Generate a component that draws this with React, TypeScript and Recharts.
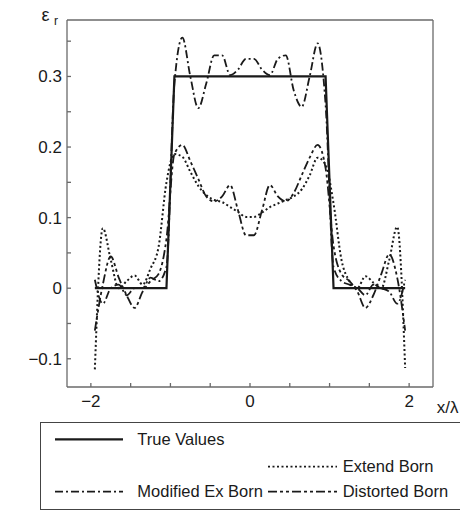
import { Line, LineChart, XAxis, YAxis } from 'recharts';

const xs = [
    -1.95, -1.85, -1.75, -1.65, -1.55, -1.45, -1.35, -1.25, -1.15, -1.05,
    -0.95, -0.85, -0.75, -0.65, -0.55, -0.45, -0.35, -0.25, -0.15, -0.05,
    0.05, 0.15, 0.25, 0.35, 0.45, 0.55, 0.65, 0.75, 0.85, 0.95,
    1.05, 1.15, 1.25, 1.35, 1.45, 1.55, 1.65, 1.75, 1.85, 1.95,
];

const trueValues = [
    0, 0, 0, 0, 0, 0, 0, 0, 0, 0,
    0.3, 0.3, 0.3, 0.3, 0.3, 0.3, 0.3, 0.3, 0.3, 0.3,
    0.3, 0.3, 0.3, 0.3, 0.3, 0.3, 0.3, 0.3, 0.3, 0.3,
    0, 0, 0, 0, 0, 0, 0, 0, 0, 0,
];

const extendBorn = [
    -0.115, 0.085, 0.04, 0.0, 0.01, 0.018, 0.005, 0.028, 0.058, 0.15,
    0.19, 0.186, 0.165, 0.145, 0.132, 0.125, 0.122, 0.115, 0.108, 0.101,
    0.101, 0.107, 0.115, 0.12, 0.125, 0.13, 0.14, 0.16, 0.185, 0.175,
    0.12, 0.04, 0.01, 0.0, 0.017, 0.008, 0.0, 0.04, 0.087, -0.113,
];

const modifiedExBorn = [
    0.012, -0.022, 0.0, 0.005, -0.01, 0.0, 0.0, 0.015, 0.01, 0.03,
    0.29, 0.355, 0.3, 0.255, 0.29, 0.33, 0.33, 0.302, 0.31, 0.325,
    0.325, 0.31, 0.302, 0.325, 0.33, 0.28, 0.257, 0.3, 0.347, 0.26,
    0.03, 0.01, 0.005, 0.0, -0.01, 0.005, 0.0, -0.005, -0.022, 0.012,
];

const distortedBorn = [
    -0.06, 0.005, 0.045, 0.015, -0.01, -0.028, -0.005, 0.01, 0.02, 0.07,
    0.19, 0.203, 0.18, 0.155, 0.13, 0.123, 0.13, 0.146, 0.11, 0.075,
    0.075, 0.11, 0.146, 0.13, 0.123, 0.135, 0.16, 0.185, 0.203, 0.17,
    0.06, 0.02, 0.01, -0.005, -0.028, -0.01, 0.02, 0.048, 0.015, -0.06,
];

const xTicks = [-2, -1.5, -1, -0.5, 0, 0.5, 1, 1.5, 2];
const xLabels = [-2, 0, 2];
const yTicks = [-0.1, -0.05, 0, 0.05, 0.1, 0.15, 0.2, 0.25, 0.3, 0.35];
const yLabels = [-0.1, 0, 0.1, 0.2, 0.3];

const data = xs.map((x, i) => ({
    x,
    trueValues: trueValues[i],
    extendBorn: extendBorn[i],
    modifiedExBorn: modifiedExBorn[i],
    distortedBorn: distortedBorn[i],
}));

const font = '"Liberation Sans", Arial, sans-serif';
const ink = '#1a1a1a';
const axisColor = '#6a6a6a';

const fmt = (labels: number[]) => (v: number) =>
    labels.some((l) => Math.abs(l - v) < 1e-9) ? String(v).replace('-', '\u2212') : '';

const DASH_DOTTED = '2 2.5';
const DASH_DOT = '8 3 2 3';
const DASH_DOTDOT = '9 3 3 3 3 3';

export default function App() {
    return (
        <div style={{ position: 'relative', width: 452, height: 504, fontFamily: font }}>
            <LineChart
                width={452}
                height={420}
                data={data}
                margin={{ top: 7, right: 17, left: 29, bottom: 21 }}
            >
                <XAxis
                    dataKey="x"
                    type="number"
                    domain={[-2.3, 2.3]}
                    ticks={xTicks}
                    tickFormatter={fmt(xLabels)}
                    allowDataOverflow
                    height={20}
                    tickSize={-4}
                    tickMargin={12}
                    stroke={axisColor}
                    strokeWidth={1.3}
                    tick={{ fontSize: 17, fill: ink, fontFamily: font }}
                />
                <XAxis
                    xAxisId="top"
                    orientation="top"
                    type="number"
                    domain={[-2.3, 2.3]}
                    ticks={xTicks}
                    allowDataOverflow
                    height={5}
                    tickSize={-4}
                    tick={false}
                    stroke={axisColor}
                    strokeWidth={1.3}
                />
                <YAxis
                    type="number"
                    domain={[-0.14, 0.38]}
                    ticks={yTicks}
                    tickFormatter={fmt(yLabels)}
                    allowDataOverflow
                    width={30}
                    tickSize={-4}
                    tickMargin={9}
                    stroke={axisColor}
                    strokeWidth={1.3}
                    tick={{ fontSize: 17, fill: ink, fontFamily: font }}
                />
                <YAxis
                    yAxisId="right"
                    orientation="right"
                    type="number"
                    domain={[-0.14, 0.38]}
                    ticks={yTicks}
                    allowDataOverflow
                    width={10}
                    tickSize={-4}
                    tick={false}
                    stroke={axisColor}
                    strokeWidth={1.3}
                />
                <Line type="linear" dataKey="trueValues" stroke={ink} strokeWidth={2.2} dot={false} isAnimationActive={false} />
                <Line type="monotone" dataKey="extendBorn" stroke={ink} strokeWidth={2} strokeDasharray={DASH_DOTTED} dot={false} isAnimationActive={false} />
                <Line type="monotone" dataKey="modifiedExBorn" stroke={ink} strokeWidth={1.8} strokeDasharray={DASH_DOT} dot={false} isAnimationActive={false} />
                <Line type="monotone" dataKey="distortedBorn" stroke={ink} strokeWidth={1.8} strokeDasharray={DASH_DOTDOT} dot={false} isAnimationActive={false} />
            </LineChart>
            {/* overlay starts at the page top so the axis symbol is not clipped */}
            <svg
                width={460}
                height={512}
                style={{ position: 'absolute', left: 0, top: -8, pointerEvents: 'none', overflow: 'visible' }}
                fontFamily={font}
                fill={ink}
            >
                <g transform="translate(0,8)">
                    <text x={33.5} y={12.7} fontSize={18}>ε</text>
                    <text x={46} y={17} fontSize={12}>r</text>
                    <text x={428.7} y={405.3} fontSize={17}>x/λ</text>

                    <rect x={32.5} y={414.5} width={421} height={87} fill="none" stroke="#444" strokeWidth={1} />
                    <line x1={47} x2={115} y1={431.3} y2={431.3} stroke={ink} strokeWidth={2.2} />
                    <text x={129.3} y={437} fontSize={16.5}>True Values</text>
                    <line x1={260} x2={329} y1={458.7} y2={458.7} stroke={ink} strokeWidth={1.8} strokeDasharray={DASH_DOTTED} />
                    <text x={334.7} y={463.7} fontSize={16.5}>Extend Born</text>
                    <line x1={47} x2={115} y1={483.7} y2={483.7} stroke={ink} strokeWidth={1.8} strokeDasharray={DASH_DOT} />
                    <text x={129.3} y={489.3} fontSize={16.5}>Modified Ex Born</text>
                    <line x1={260} x2={329} y1={483.7} y2={483.7} stroke={ink} strokeWidth={1.8} strokeDasharray={DASH_DOTDOT} />
                    <text x={334.7} y={489.3} fontSize={16.5}>Distorted Born</text>
                </g>
            </svg>
        </div>
    );
}
